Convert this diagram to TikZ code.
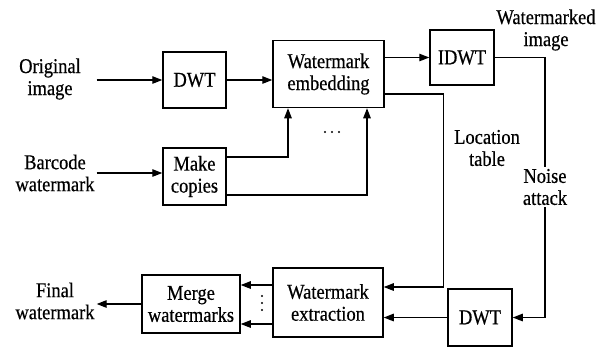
\documentclass[tikz,border=0pt]{standalone}
\usepackage{fontspec}
\newfontfamily\tnr{Liberation Serif}[FakeStretch=0.88,FakeBold=0.5]
\usetikzlibrary{arrows.meta,positioning,calc}
\tikzset{box/.style={draw,line width=1.5pt,align=center,inner sep=2pt},
 lbl/.style={align=center,inner sep=2pt},
 dot/.style={circle,fill,inner sep=0pt,minimum size=2.4pt},
 wire/.style={line width=1.3pt},arr/.style={-{Triangle[length=10pt,width=7.5pt]},line width=1.3pt},
 every node/.style={font=\tnr\fontsize{21}{22}\selectfont}}
\begin{document}
\begin{tikzpicture}[x=1pt,y=-1pt]
\useasboundingbox (0,0) rectangle (600,349);
% boxes
\node[box,minimum width=63pt,minimum height=56pt] (dwta) at (194.5,80) {DWT};
\node[box,minimum width=111pt,minimum height=67pt] (emb) at (328.5,74) {Watermark\\embedding};
\node[box,minimum width=64pt,minimum height=55pt] (idwt) at (462,57.5) {IDWT};
\node[box,minimum width=63pt,minimum height=57pt] (copy) at (194.5,176.5) {Make\\copies};
\node[box,minimum width=110pt,minimum height=69pt] (ext) at (328,302.5) {Watermark\\extraction};
\node[box,minimum width=64pt,minimum height=57pt] (dwtb) at (480,317.5) {DWT};
\node[box,minimum width=98pt,minimum height=58pt] (merge) at (191,304) {Merge\\watermarks};
% labels
\node[lbl] (orig) at (50,79) {Original\\image};
\node[lbl] (bar) at (55,173) {Barcode\\watermark};
\node[lbl] (fin) at (55,301) {Final\\watermark};
\node[lbl] (wmk) at (546,30) {Watermarked\\image};
\node[lbl] (loc) at (487,148) {Location\\table};
\node[lbl] (noise) at (545,187) {Noise\\attack};
% dots between the copies
\foreach \i in {-1,0,1}{\node[dot] at (332+7*\i,132) {}; \node[dot] at (262,303+7*\i) {};}
% connectors
\draw[arr] (bar.east |- dwta) -- (dwta.west);
\draw[arr] (dwta.east) -- (dwta.east -| emb.west);
\draw[arr] (bar.east) -- (bar.east -| copy.west);
\draw[arr] ([yshift=19.5pt]copy.east) -| ([xshift=-40.5pt]emb.south);
\draw[arr] ([yshift=-18.5pt]copy.east) -| ([xshift=38.5pt]emb.south);
\draw[arr] (idwt.west -| emb.east) -- (idwt.west);
\draw[wire] (idwt.east) -| (noise.north);
\draw[arr] (noise.south) |- (dwtb.east);
\draw[arr] ([yshift=-20pt]emb.east) -- ++(59,0) |- ([yshift=15.5pt]ext.east);
\draw[arr] (dwtb.west) -- (dwtb.west -| ext.east);
\foreach \s in {17.5pt,-21.5pt}{\draw[arr] ([yshift=\s]ext.west) -- ([yshift=\s]ext.west -| merge.east);}
\draw[arr] (merge.west) -- (merge.west -| fin.east);
\end{tikzpicture}
\end{document}
